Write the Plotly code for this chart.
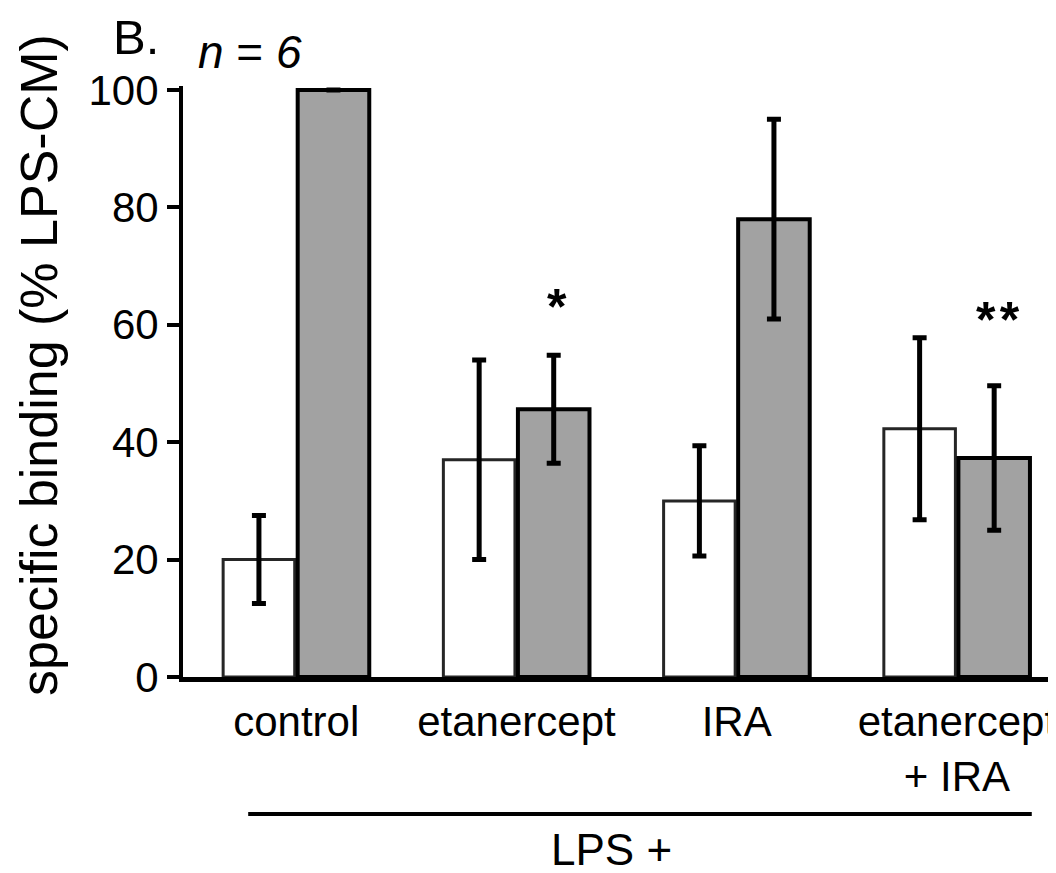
import plotly.graph_objects as go

categories = ["control", "etanercept", "IRA", "etanercept + IRA"]
tick_labels = ["control", "etanercept", "IRA", "etanercept<br>+ IRA"]
white_values = [20, 37, 30, 42.3]
white_errors = [7.5, 17, 9.4, 15.5]
gray_values = [100, 45.6, 78, 37.3]
gray_errors = [0, 9.2, 17, 12.3]
star_labels = ["", "*", "", "*\u200a*"]
star_heights = [0, 63, 0, 60.8]

FONT = "Arial, 'Liberation Sans', sans-serif"

fig = go.Figure()
fig.add_trace(go.Bar(
    x=categories, y=white_values,
    marker=dict(color="white", line=dict(color="#262626", width=3)),
    error_y=dict(type="data", array=white_errors, color="black", thickness=5, width=7),
    showlegend=False,
))
fig.add_trace(go.Bar(
    x=categories, y=gray_values,
    marker=dict(color="#a2a2a2", line=dict(color="black", width=4)),
    error_y=dict(type="data", array=gray_errors, color="black", thickness=5, width=7),
    showlegend=False,
))

for i, (lab, h) in enumerate(zip(star_labels, star_heights)):
    if lab:
        fig.add_annotation(x=i + 0.185, y=h, xref="x", yref="y", text="<b>" + lab + "</b>",
                           showarrow=False, font=dict(size=50, color="black", family=FONT),
                           xanchor="center", yanchor="middle")

fig.update_layout(
    width=1048, height=865,
    margin=dict(l=175, r=0, t=78, b=196),
    paper_bgcolor="white", plot_bgcolor="white",
    barmode="group", bargap=0.323, bargroupgap=0.04,
    font=dict(family=FONT, size=42, color="black"),
)
fig.update_xaxes(
    range=[-0.514, 3.45], tickvals=categories, ticktext=tick_labels,
    showline=True, linecolor="black", linewidth=5, ticks="",
    showgrid=False, zeroline=False, tickfont=dict(size=42), ticklabelstandoff=4,
)
fig.update_yaxes(
    range=[0, 100.68], tickvals=[0, 20, 40, 60, 80, 100],
    showline=True, linecolor="black", linewidth=4,
    ticks="outside", ticklen=12, tickwidth=4, tickcolor="black",
    showgrid=False, zeroline=False, tickfont=dict(size=42),
)

# y-axis title
fig.add_annotation(x=0, y=0.528, xref="paper", yref="paper", xshift=-144,
                   text="specific binding (% LPS-CM)", textangle=-90, showarrow=False,
                   font=dict(size=52), xanchor="center", yanchor="middle")
# panel letter and n
fig.add_annotation(x=0, y=1.132, xref="paper", yref="paper", xshift=-72,
                   text="B.", showarrow=False, font=dict(size=49),
                   xanchor="left", yanchor="top")
fig.add_annotation(x=0, y=1.0575, xref="paper", yref="paper", xshift=13,
                   text="<i>n</i> = <i>6</i>", showarrow=False, font=dict(size=46),
                   xanchor="left", yanchor="middle")
# LPS + bracket
fig.add_shape(type="line", xref="x", yref="paper", x0=-0.218, x1=3.34,
              y0=-0.2318, y1=-0.2318, line=dict(color="black", width=4))
fig.add_annotation(x=1.43, y=-0.2927, xref="x", yref="paper", text="LPS +",
                   showarrow=False, font=dict(size=44), xanchor="center", yanchor="middle")

fig.write_html("out.html")
